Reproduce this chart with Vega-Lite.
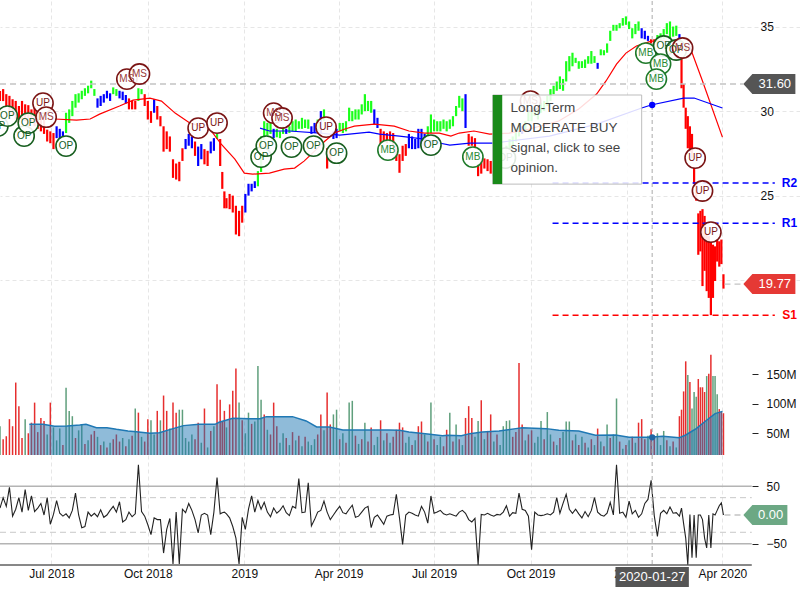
{"$schema":"https://vega.github.io/schema/vega-lite/v6.json","padding":{"left":-3,"top":0,"right":0,"bottom":0},"spacing":0,"bounds":"flush","background":"white",
"resolve":{"scale":{"color":"independent","stroke":"independent","fill":"independent"}},
"config":{"view":{"stroke":null},"font":"Liberation Sans","axis":{"labelFont":"Liberation Sans","title":null}},
"datasets":{
"bars":[
{"date":"2018-05-13","hi":31.18,"lo":30.59,"trend":"r","vol":62,"dir":"u","osc":12},
{"date":"2018-05-16","hi":31.3,"lo":30.59,"trend":"r","vol":40,"dir":"d","osc":30},
{"date":"2018-05-19","hi":31.0,"lo":30.3,"trend":"r","vol":45,"dir":"d","osc":15},
{"date":"2018-05-22","hi":30.9,"lo":29.9,"trend":"r","vol":74,"dir":"d","osc":48},
{"date":"2018-05-25","hi":30.7,"lo":29.7,"trend":"r","vol":62,"dir":"d","osc":-2},
{"date":"2018-05-28","hi":30.6,"lo":29.5,"trend":"r","vol":136,"dir":"d","osc":10},
{"date":"2018-05-31","hi":30.3,"lo":29.3,"trend":"r","vol":96,"dir":"d","osc":30},
{"date":"2018-06-03","hi":30.6,"lo":29.5,"trend":"r","vol":42,"dir":"d","osc":5},
{"date":"2018-06-06","hi":30.4,"lo":29.4,"trend":"r","vol":74,"dir":"u","osc":44},
{"date":"2018-06-09","hi":30.35,"lo":29.1,"trend":"r","vol":50,"dir":"d","osc":8},
{"date":"2018-06-12","hi":30.1,"lo":29.3,"trend":"r","vol":68,"dir":"d","osc":33},
{"date":"2018-06-15","hi":30.3,"lo":29.1,"trend":"r","vol":102,"dir":"d","osc":6},
{"date":"2018-06-18","hi":30,"lo":28.95,"trend":"r","vol":52,"dir":"d","osc":12},
{"date":"2018-06-21","hi":29.7,"lo":28.8,"trend":"r","vol":76,"dir":"d","osc":20},
{"date":"2018-06-24","hi":29.5,"lo":28.65,"trend":"r","vol":71,"dir":"d","osc":0},
{"date":"2018-06-27","hi":28.9,"lo":28.2,"trend":"r","vol":48,"dir":"u","osc":30},
{"date":"2018-06-30","hi":28.8,"lo":28.1,"trend":"r","vol":102,"dir":"d","osc":-16},
{"date":"2018-07-03","hi":28.7,"lo":27.75,"trend":"r","vol":60,"dir":"u","osc":1},
{"date":"2018-07-06","hi":29.1,"lo":28.4,"trend":"b","vol":38,"dir":"u","osc":25},
{"date":"2018-07-09","hi":28.95,"lo":28.4,"trend":"b","vol":58,"dir":"u","osc":3},
{"date":"2018-07-12","hi":28.8,"lo":28.5,"trend":"b","vol":30,"dir":"d","osc":-2},
{"date":"2018-07-15","hi":29.9,"lo":28.7,"trend":"g","vol":127,"dir":"u","osc":2},
{"date":"2018-07-18","hi":30.1,"lo":29.3,"trend":"g","vol":88,"dir":"u","osc":-5},
{"date":"2018-07-21","hi":30.6,"lo":29.7,"trend":"g","vol":79,"dir":"u","osc":8},
{"date":"2018-07-24","hi":31,"lo":30.2,"trend":"g","vol":42,"dir":"d","osc":38},
{"date":"2018-07-27","hi":31.05,"lo":30.5,"trend":"g","vol":55,"dir":"u","osc":0},
{"date":"2018-07-30","hi":31.2,"lo":30.7,"trend":"g","vol":65,"dir":"u","osc":-22},
{"date":"2018-08-02","hi":31.35,"lo":30.9,"trend":"g","vol":32,"dir":"d","osc":-20},
{"date":"2018-08-05","hi":31.5,"lo":31.05,"trend":"g","vol":38,"dir":"u","osc":5},
{"date":"2018-08-08","hi":31.8,"lo":31.35,"trend":"g","vol":48,"dir":"d","osc":-2},
{"date":"2018-08-11","hi":31.3,"lo":30.9,"trend":"g","vol":54,"dir":"d","osc":3},
{"date":"2018-08-14","hi":30.75,"lo":30.2,"trend":"b","vol":44,"dir":"u","osc":-3},
{"date":"2018-08-17","hi":30.9,"lo":30.3,"trend":"b","vol":30,"dir":"d","osc":9},
{"date":"2018-08-20","hi":31,"lo":30.5,"trend":"b","vol":36,"dir":"u","osc":-4},
{"date":"2018-08-23","hi":31.2,"lo":30.75,"trend":"b","vol":26,"dir":"d","osc":0},
{"date":"2018-08-26","hi":31.05,"lo":30.6,"trend":"b","vol":34,"dir":"u","osc":8},
{"date":"2018-08-29","hi":31.4,"lo":31,"trend":"g","vol":40,"dir":"d","osc":15},
{"date":"2018-09-01","hi":31.3,"lo":30.9,"trend":"g","vol":48,"dir":"d","osc":5},
{"date":"2018-09-04","hi":31.2,"lo":30.75,"trend":"b","vol":36,"dir":"d","osc":23},
{"date":"2018-09-07","hi":31.15,"lo":30.65,"trend":"b","vol":42,"dir":"u","osc":-12},
{"date":"2018-09-10","hi":30.95,"lo":30.45,"trend":"b","vol":28,"dir":"d","osc":-8},
{"date":"2018-09-13","hi":30.75,"lo":30.1,"trend":"r","vol":40,"dir":"u","osc":5},
{"date":"2018-09-16","hi":30.6,"lo":30.1,"trend":"r","vol":46,"dir":"d","osc":-3},
{"date":"2018-09-19","hi":30.6,"lo":30.1,"trend":"r","vol":92,"dir":"u","osc":2},
{"date":"2018-09-22","hi":31.35,"lo":30.6,"trend":"g","vol":85,"dir":"d","osc":87},
{"date":"2018-09-25","hi":31.3,"lo":31,"trend":"g","vol":44,"dir":"u","osc":6},
{"date":"2018-09-28","hi":31,"lo":30.3,"trend":"r","vol":36,"dir":"d","osc":-2},
{"date":"2018-10-01","hi":30.6,"lo":29.5,"trend":"r","vol":74,"dir":"d","osc":-17},
{"date":"2018-10-04","hi":30,"lo":29.3,"trend":"r","vol":72,"dir":"u","osc":-34},
{"date":"2018-10-07","hi":30.7,"lo":29.9,"trend":"b","vol":48,"dir":"u","osc":-5},
{"date":"2018-10-10","hi":30.3,"lo":29.5,"trend":"r","vol":88,"dir":"d","osc":-8},
{"date":"2018-10-13","hi":29.7,"lo":29.1,"trend":"r","vol":72,"dir":"u","osc":-8},
{"date":"2018-10-16","hi":29.1,"lo":27.6,"trend":"r","vol":114,"dir":"d","osc":-66},
{"date":"2018-10-19","hi":28.8,"lo":27.75,"trend":"r","vol":88,"dir":"d","osc":-25},
{"date":"2018-10-22","hi":28.5,"lo":27.6,"trend":"r","vol":58,"dir":"u","osc":-6},
{"date":"2018-10-25","hi":27.15,"lo":26.05,"trend":"r","vol":102,"dir":"d","osc":-85},
{"date":"2018-10-28","hi":26.9,"lo":25.95,"trend":"r","vol":85,"dir":"d","osc":5},
{"date":"2018-10-31","hi":27,"lo":25.85,"trend":"r","vol":90,"dir":"u","osc":-85},
{"date":"2018-11-03","hi":27.8,"lo":27.05,"trend":"r","vol":90,"dir":"u","osc":10},
{"date":"2018-11-06","hi":28.35,"lo":27.75,"trend":"b","vol":42,"dir":"u","osc":4},
{"date":"2018-11-09","hi":28.65,"lo":27.95,"trend":"b","vol":36,"dir":"u","osc":20},
{"date":"2018-11-12","hi":28.5,"lo":27.8,"trend":"b","vol":48,"dir":"u","osc":8},
{"date":"2018-11-15","hi":28.2,"lo":27.35,"trend":"r","vol":40,"dir":"d","osc":-8},
{"date":"2018-11-18","hi":27.9,"lo":26.75,"trend":"b","vol":68,"dir":"d","osc":-31},
{"date":"2018-11-21","hi":28.05,"lo":27.15,"trend":"b","vol":34,"dir":"u","osc":0},
{"date":"2018-11-24","hi":27.75,"lo":26.85,"trend":"r","vol":92,"dir":"d","osc":3},
{"date":"2018-11-27","hi":27.65,"lo":26.75,"trend":"r","vol":26,"dir":"u","osc":0},
{"date":"2018-11-30","hi":28.2,"lo":27.5,"trend":"b","vol":54,"dir":"d","osc":-34},
{"date":"2018-12-03","hi":28.4,"lo":27.65,"trend":"b","vol":62,"dir":"u","osc":5},
{"date":"2018-12-06","hi":28.65,"lo":28.35,"trend":"g","vol":133,"dir":"d","osc":65},
{"date":"2018-12-09","hi":28.35,"lo":26.75,"trend":"r","vol":107,"dir":"d","osc":2},
{"date":"2018-12-11","hi":26.4,"lo":25.4,"trend":"r","vol":70,"dir":"d","osc":4},
{"date":"2018-12-13","hi":25.25,"lo":24.25,"trend":"r","vol":88,"dir":"d","osc":5},
{"date":"2018-12-15","hi":24.85,"lo":24.25,"trend":"r","vol":60,"dir":"u","osc":2},
{"date":"2018-12-18","hi":25.1,"lo":24.2,"trend":"r","vol":99,"dir":"d","osc":-5},
{"date":"2018-12-21","hi":25,"lo":24,"trend":"r","vol":122,"dir":"d","osc":-20},
{"date":"2018-12-24","hi":24.4,"lo":22.7,"trend":"r","vol":160,"dir":"d","osc":-40},
{"date":"2018-12-27","hi":24.1,"lo":22.6,"trend":"r","vol":102,"dir":"u","osc":-85},
{"date":"2018-12-30","hi":24.4,"lo":23.4,"trend":"r","vol":72,"dir":"d","osc":-4},
{"date":"2019-01-02","hi":25.1,"lo":24,"trend":"b","vol":50,"dir":"u","osc":-25},
{"date":"2019-01-05","hi":25.7,"lo":25,"trend":"b","vol":85,"dir":"u","osc":10},
{"date":"2019-01-08","hi":25.7,"lo":25.25,"trend":"b","vol":66,"dir":"d","osc":33},
{"date":"2019-01-11","hi":25.85,"lo":25.45,"trend":"b","vol":70,"dir":"u","osc":5},
{"date":"2019-01-14","hi":26.45,"lo":25.55,"trend":"g","vol":164,"dir":"u","osc":25},
{"date":"2019-01-17","hi":28.5,"lo":26.4,"trend":"g","vol":107,"dir":"u","osc":10},
{"date":"2019-01-20","hi":29.4,"lo":28.3,"trend":"g","vol":82,"dir":"d","osc":22},
{"date":"2019-01-23","hi":29.3,"lo":28.55,"trend":"g","vol":56,"dir":"u","osc":5},
{"date":"2019-01-26","hi":29.3,"lo":28.65,"trend":"g","vol":48,"dir":"d","osc":-3},
{"date":"2019-01-29","hi":28.95,"lo":28.4,"trend":"b","vol":102,"dir":"d","osc":12},
{"date":"2019-02-01","hi":28.95,"lo":28.45,"trend":"g","vol":62,"dir":"d","osc":3},
{"date":"2019-02-04","hi":28.8,"lo":28.4,"trend":"g","vol":34,"dir":"u","osc":8},
{"date":"2019-02-07","hi":29.1,"lo":28.65,"trend":"g","vol":50,"dir":"u","osc":16},
{"date":"2019-02-10","hi":28.95,"lo":28.65,"trend":"b","vol":42,"dir":"d","osc":4},
{"date":"2019-02-13","hi":29.1,"lo":28.7,"trend":"g","vol":30,"dir":"u","osc":-1},
{"date":"2019-02-16","hi":29.4,"lo":28.8,"trend":"g","vol":52,"dir":"d","osc":15},
{"date":"2019-02-19","hi":29.5,"lo":28.8,"trend":"g","vol":38,"dir":"u","osc":12},
{"date":"2019-02-22","hi":29.4,"lo":28.95,"trend":"g","vol":46,"dir":"d","osc":63},
{"date":"2019-02-25","hi":29.6,"lo":28.95,"trend":"g","vol":28,"dir":"u","osc":4},
{"date":"2019-02-28","hi":29.5,"lo":29,"trend":"g","vol":44,"dir":"d","osc":5},
{"date":"2019-03-03","hi":29.5,"lo":28.95,"trend":"g","vol":36,"dir":"u","osc":56},
{"date":"2019-03-06","hi":29.1,"lo":28.65,"trend":"b","vol":30,"dir":"u","osc":-19},
{"date":"2019-03-09","hi":29.3,"lo":28.7,"trend":"b","vol":40,"dir":"u","osc":-8},
{"date":"2019-03-12","hi":29.5,"lo":28.8,"trend":"g","vol":48,"dir":"d","osc":5},
{"date":"2019-03-15","hi":30,"lo":28.65,"trend":"b","vol":82,"dir":"d","osc":8},
{"date":"2019-03-18","hi":30.1,"lo":29.4,"trend":"g","vol":55,"dir":"u","osc":24},
{"date":"2019-03-21","hi":27.8,"lo":26.6,"trend":"r","vol":119,"dir":"d","osc":5},
{"date":"2019-03-24","hi":27.65,"lo":27.05,"trend":"r","vol":65,"dir":"d","osc":-8},
{"date":"2019-03-27","hi":28.8,"lo":28.35,"trend":"b","vol":82,"dir":"u","osc":0},
{"date":"2019-03-30","hi":28.95,"lo":28.4,"trend":"b","vol":90,"dir":"u","osc":8},
{"date":"2019-04-02","hi":29.3,"lo":28.8,"trend":"g","vol":40,"dir":"d","osc":15},
{"date":"2019-04-05","hi":29.3,"lo":28.7,"trend":"g","vol":50,"dir":"u","osc":4},
{"date":"2019-04-08","hi":29.4,"lo":28.8,"trend":"g","vol":34,"dir":"d","osc":2},
{"date":"2019-04-11","hi":30.2,"lo":29.4,"trend":"g","vol":102,"dir":"u","osc":10},
{"date":"2019-04-14","hi":30,"lo":29.4,"trend":"g","vol":105,"dir":"u","osc":17},
{"date":"2019-04-17","hi":30.1,"lo":29.5,"trend":"g","vol":46,"dir":"d","osc":-4},
{"date":"2019-04-20","hi":30.1,"lo":29.5,"trend":"g","vol":32,"dir":"u","osc":-2},
{"date":"2019-04-23","hi":30.4,"lo":29.8,"trend":"g","vol":40,"dir":"d","osc":5},
{"date":"2019-04-26","hi":31,"lo":30,"trend":"g","vol":68,"dir":"u","osc":12},
{"date":"2019-04-29","hi":30.6,"lo":30,"trend":"g","vol":36,"dir":"d","osc":15},
{"date":"2019-05-02","hi":30.6,"lo":29.9,"trend":"g","vol":60,"dir":"d","osc":-22},
{"date":"2019-05-05","hi":30.1,"lo":29.2,"trend":"b","vol":30,"dir":"u","osc":-4},
{"date":"2019-05-08","hi":29.6,"lo":29,"trend":"b","vol":44,"dir":"u","osc":0},
{"date":"2019-05-11","hi":28.95,"lo":28.05,"trend":"r","vol":72,"dir":"d","osc":-8},
{"date":"2019-05-14","hi":28.8,"lo":28.2,"trend":"r","vol":38,"dir":"u","osc":-16},
{"date":"2019-05-17","hi":28.7,"lo":28.1,"trend":"r","vol":50,"dir":"d","osc":-2},
{"date":"2019-05-20","hi":28.8,"lo":28.2,"trend":"r","vol":34,"dir":"u","osc":0},
{"date":"2019-05-23","hi":28.7,"lo":27.8,"trend":"r","vol":44,"dir":"d","osc":1},
{"date":"2019-05-26","hi":27.95,"lo":27.05,"trend":"r","vol":56,"dir":"d","osc":36},
{"date":"2019-05-29","hi":27.45,"lo":26.35,"trend":"r","vol":68,"dir":"d","osc":-5},
{"date":"2019-06-01","hi":27.95,"lo":27.05,"trend":"r","vol":60,"dir":"d","osc":-51},
{"date":"2019-06-04","hi":28.05,"lo":27.35,"trend":"r","vol":34,"dir":"u","osc":0},
{"date":"2019-06-07","hi":28.65,"lo":27.8,"trend":"b","vol":44,"dir":"u","osc":5},
{"date":"2019-06-10","hi":28.5,"lo":27.75,"trend":"b","vol":30,"dir":"d","osc":3},
{"date":"2019-06-13","hi":28.35,"lo":27.75,"trend":"b","vol":38,"dir":"u","osc":0},
{"date":"2019-06-16","hi":28.95,"lo":27.8,"trend":"b","vol":62,"dir":"d","osc":-2},
{"date":"2019-06-19","hi":28.95,"lo":27.95,"trend":"b","vol":70,"dir":"d","osc":15},
{"date":"2019-06-22","hi":28.65,"lo":27.8,"trend":"b","vol":48,"dir":"u","osc":5},
{"date":"2019-06-25","hi":29.1,"lo":28.5,"trend":"g","vol":36,"dir":"d","osc":-14},
{"date":"2019-06-28","hi":29.8,"lo":28.7,"trend":"g","vol":102,"dir":"u","osc":33},
{"date":"2019-07-01","hi":29.5,"lo":28.8,"trend":"g","vol":40,"dir":"d","osc":3},
{"date":"2019-07-04","hi":29.4,"lo":28.8,"trend":"g","vol":30,"dir":"u","osc":5},
{"date":"2019-07-07","hi":29.4,"lo":28.8,"trend":"g","vol":44,"dir":"u","osc":8},
{"date":"2019-07-10","hi":29.5,"lo":28.95,"trend":"g","vol":28,"dir":"d","osc":2},
{"date":"2019-07-13","hi":29.4,"lo":28.8,"trend":"g","vol":56,"dir":"d","osc":0},
{"date":"2019-07-16","hi":29.5,"lo":28.95,"trend":"g","vol":85,"dir":"u","osc":2},
{"date":"2019-07-19","hi":29.7,"lo":29.1,"trend":"g","vol":36,"dir":"d","osc":0},
{"date":"2019-07-22","hi":30.3,"lo":29.7,"trend":"g","vol":65,"dir":"u","osc":-2},
{"date":"2019-07-25","hi":30.9,"lo":30.2,"trend":"g","vol":40,"dir":"d","osc":5},
{"date":"2019-07-28","hi":30.75,"lo":30,"trend":"g","vol":30,"dir":"u","osc":8},
{"date":"2019-07-31","hi":31,"lo":29,"trend":"b","vol":76,"dir":"d","osc":3},
{"date":"2019-08-03","hi":28.65,"lo":27.95,"trend":"r","vol":96,"dir":"d","osc":-8},
{"date":"2019-08-06","hi":28.5,"lo":27.95,"trend":"r","vol":76,"dir":"d","osc":-12},
{"date":"2019-08-09","hi":28.4,"lo":27.8,"trend":"r","vol":44,"dir":"u","osc":-6},
{"date":"2019-08-12","hi":26.85,"lo":26.15,"trend":"r","vol":71,"dir":"u","osc":-86},
{"date":"2019-08-15","hi":27.05,"lo":26.3,"trend":"r","vol":106,"dir":"d","osc":1},
{"date":"2019-08-18","hi":27.2,"lo":26.6,"trend":"r","vol":40,"dir":"u","osc":0},
{"date":"2019-08-21","hi":27.15,"lo":26.45,"trend":"r","vol":54,"dir":"d","osc":3},
{"date":"2019-08-24","hi":27.05,"lo":26.3,"trend":"r","vol":82,"dir":"d","osc":0},
{"date":"2019-08-27","hi":26.45,"lo":26.15,"trend":"r","vol":36,"dir":"u","osc":-2},
{"date":"2019-08-30","hi":27.05,"lo":26.45,"trend":"g","vol":48,"dir":"d","osc":1},
{"date":"2019-09-02","hi":27.35,"lo":26.75,"trend":"g","vol":30,"dir":"u","osc":0},
{"date":"2019-09-05","hi":27.6,"lo":27.05,"trend":"g","vol":62,"dir":"u","osc":5},
{"date":"2019-09-08","hi":27.95,"lo":27.35,"trend":"g","vol":71,"dir":"u","osc":16},
{"date":"2019-09-11","hi":28.35,"lo":27.6,"trend":"g","vol":72,"dir":"u","osc":-2},
{"date":"2019-09-14","hi":28.5,"lo":27.95,"trend":"g","vol":44,"dir":"d","osc":4},
{"date":"2019-09-17","hi":28.95,"lo":28.2,"trend":"g","vol":52,"dir":"d","osc":3},
{"date":"2019-09-20","hi":29.3,"lo":28.5,"trend":"g","vol":169,"dir":"d","osc":38},
{"date":"2019-09-23","hi":29.1,"lo":28.65,"trend":"b","vol":65,"dir":"d","osc":10},
{"date":"2019-09-26","hi":29.4,"lo":28.8,"trend":"g","vol":38,"dir":"u","osc":8},
{"date":"2019-09-29","hi":30,"lo":29.4,"trend":"g","vol":48,"dir":"d","osc":-2},
{"date":"2019-10-02","hi":30.1,"lo":29.4,"trend":"g","vol":55,"dir":"d","osc":-60},
{"date":"2019-10-05","hi":30.3,"lo":29.7,"trend":"g","vol":34,"dir":"u","osc":5},
{"date":"2019-10-08","hi":30.1,"lo":29.5,"trend":"g","vol":44,"dir":"u","osc":0},
{"date":"2019-10-11","hi":30.5,"lo":29.9,"trend":"g","vol":71,"dir":"u","osc":-1},
{"date":"2019-10-14","hi":30.6,"lo":30,"trend":"g","vol":40,"dir":"d","osc":0},
{"date":"2019-10-17","hi":30.9,"lo":30.3,"trend":"g","vol":86,"dir":"u","osc":2},
{"date":"2019-10-20","hi":31.3,"lo":30.6,"trend":"g","vol":48,"dir":"u","osc":0},
{"date":"2019-10-23","hi":31.5,"lo":31,"trend":"g","vol":36,"dir":"d","osc":5},
{"date":"2019-10-26","hi":31.75,"lo":31.2,"trend":"g","vol":30,"dir":"u","osc":30},
{"date":"2019-10-29","hi":32.05,"lo":31.3,"trend":"g","vol":42,"dir":"d","osc":3},
{"date":"2019-11-01","hi":31.9,"lo":31.2,"trend":"g","vol":52,"dir":"u","osc":20},
{"date":"2019-11-04","hi":32.95,"lo":31.75,"trend":"g","vol":70,"dir":"u","osc":36},
{"date":"2019-11-07","hi":33.25,"lo":32.35,"trend":"g","vol":70,"dir":"u","osc":10},
{"date":"2019-11-10","hi":33.45,"lo":32.65,"trend":"g","vol":38,"dir":"d","osc":3},
{"date":"2019-11-13","hi":33.15,"lo":32.85,"trend":"g","vol":48,"dir":"u","osc":10},
{"date":"2019-11-16","hi":32.95,"lo":32.5,"trend":"g","vol":30,"dir":"d","osc":2},
{"date":"2019-11-19","hi":32.95,"lo":32.55,"trend":"g","vol":44,"dir":"u","osc":-5},
{"date":"2019-11-22","hi":33.05,"lo":32.55,"trend":"g","vol":34,"dir":"d","osc":6},
{"date":"2019-11-25","hi":33.25,"lo":32.8,"trend":"g","vol":26,"dir":"u","osc":-3},
{"date":"2019-11-28","hi":33.55,"lo":32.8,"trend":"g","vol":40,"dir":"d","osc":8},
{"date":"2019-12-01","hi":33.25,"lo":32.85,"trend":"g","vol":30,"dir":"u","osc":30},
{"date":"2019-12-04","hi":32.85,"lo":32.5,"trend":"b","vol":58,"dir":"d","osc":5},
{"date":"2019-12-07","hi":33.65,"lo":33.3,"trend":"g","vol":36,"dir":"u","osc":0},
{"date":"2019-12-10","hi":33.6,"lo":33.3,"trend":"g","vol":28,"dir":"d","osc":-2},
{"date":"2019-12-13","hi":34,"lo":33.45,"trend":"g","vol":65,"dir":"u","osc":3},
{"date":"2019-12-16","hi":34.75,"lo":34.15,"trend":"g","vol":42,"dir":"d","osc":22},
{"date":"2019-12-19","hi":35.1,"lo":34.75,"trend":"g","vol":48,"dir":"u","osc":0},
{"date":"2019-12-22","hi":35.1,"lo":34.75,"trend":"g","vol":109,"dir":"u","osc":87},
{"date":"2019-12-25","hi":35.2,"lo":34.9,"trend":"g","vol":36,"dir":"d","osc":3},
{"date":"2019-12-28","hi":35.5,"lo":35.05,"trend":"g","vol":24,"dir":"u","osc":5},
{"date":"2019-12-31","hi":35.6,"lo":35.1,"trend":"g","vol":30,"dir":"d","osc":-4},
{"date":"2020-01-03","hi":35.3,"lo":34.85,"trend":"g","vol":38,"dir":"u","osc":24},
{"date":"2020-01-06","hi":34.9,"lo":34.3,"trend":"g","vol":44,"dir":"d","osc":2},
{"date":"2020-01-09","hi":35.15,"lo":34.55,"trend":"g","vol":34,"dir":"u","osc":8},
{"date":"2020-01-12","hi":35.3,"lo":34.75,"trend":"g","vol":68,"dir":"d","osc":-4},
{"date":"2020-01-15","hi":34.9,"lo":34.3,"trend":"b","vol":74,"dir":"d","osc":2},
{"date":"2020-01-18","hi":34.75,"lo":34.25,"trend":"b","vol":40,"dir":"d","osc":20},
{"date":"2020-01-21","hi":34.45,"lo":34.15,"trend":"b","vol":46,"dir":"u","osc":27},
{"date":"2020-01-24","hi":34.25,"lo":34,"trend":"r","vol":57,"dir":"d","osc":60},
{"date":"2020-01-27","hi":34.25,"lo":33.95,"trend":"r","vol":40,"dir":"d","osc":-1},
{"date":"2020-01-30","hi":34.5,"lo":34,"trend":"g","vol":50,"dir":"u","osc":-37},
{"date":"2020-02-02","hi":34.6,"lo":34.15,"trend":"g","vol":30,"dir":"u","osc":3},
{"date":"2020-02-05","hi":34.85,"lo":34.25,"trend":"g","vol":54,"dir":"u","osc":8},
{"date":"2020-02-08","hi":35.2,"lo":34.55,"trend":"g","vol":38,"dir":"d","osc":2},
{"date":"2020-02-11","hi":35.3,"lo":34.3,"trend":"g","vol":28,"dir":"u","osc":14},
{"date":"2020-02-14","hi":35,"lo":34.4,"trend":"g","vol":36,"dir":"d","osc":3},
{"date":"2020-02-17","hi":35.05,"lo":34.45,"trend":"g","vol":26,"dir":"u","osc":4},
{"date":"2020-02-20","hi":34.55,"lo":34.3,"trend":"b","vol":79,"dir":"d","osc":-2},
{"date":"2020-02-22","hi":33.85,"lo":31.35,"trend":"r","vol":90,"dir":"d","osc":12},
{"date":"2020-02-24","hi":31.6,"lo":30.2,"trend":"r","vol":121,"dir":"d","osc":-15},
{"date":"2020-02-26","hi":30.2,"lo":28.95,"trend":"r","vol":172,"dir":"d","osc":-40},
{"date":"2020-02-28","hi":29.7,"lo":27.8,"trend":"r","vol":149,"dir":"u","osc":-86},
{"date":"2020-03-01","hi":29.1,"lo":27.6,"trend":"r","vol":137,"dir":"d","osc":1},
{"date":"2020-03-03","hi":28.65,"lo":27.2,"trend":"r","vol":92,"dir":"u","osc":-74},
{"date":"2020-03-05","hi":26.65,"lo":25.7,"trend":"r","vol":120,"dir":"u","osc":0},
{"date":"2020-03-07","hi":25.7,"lo":24.7,"trend":"r","vol":112,"dir":"u","osc":-74},
{"date":"2020-03-09","hi":23.95,"lo":21.5,"trend":"r","vol":142,"dir":"d","osc":0},
{"date":"2020-03-11","hi":24.1,"lo":21.7,"trend":"r","vol":128,"dir":"d","osc":0},
{"date":"2020-03-13","hi":24.2,"lo":19.65,"trend":"r","vol":128,"dir":"d","osc":-8},
{"date":"2020-03-15","hi":23.8,"lo":20.55,"trend":"r","vol":120,"dir":"d","osc":-40},
{"date":"2020-03-17","hi":22.7,"lo":19.35,"trend":"r","vol":147,"dir":"u","osc":-57},
{"date":"2020-03-19","hi":22.6,"lo":18.95,"trend":"r","vol":151,"dir":"d","osc":0},
{"date":"2020-03-21","hi":22.3,"lo":17.93,"trend":"r","vol":183,"dir":"d","osc":-57},
{"date":"2020-03-23","hi":22.1,"lo":18.95,"trend":"r","vol":147,"dir":"u","osc":2},
{"date":"2020-03-25","hi":22,"lo":19.95,"trend":"r","vol":147,"dir":"u","osc":0},
{"date":"2020-03-27","hi":22.4,"lo":21.1,"trend":"r","vol":116,"dir":"u","osc":8},
{"date":"2020-03-29","hi":22.3,"lo":20.8,"trend":"r","vol":91,"dir":"d","osc":16},
{"date":"2020-03-31","hi":22.4,"lo":20.95,"trend":"r","vol":86,"dir":"d","osc":21},
{"date":"2020-04-02","hi":20.35,"lo":19.5,"trend":"r","vol":84,"dir":"d","osc":0}
],
"redma":[{"date":"2018-07-04","ma":29.53},{"date":"2018-07-25","ma":29.47},{"date":"2018-08-07","ma":29.53},{"date":"2018-08-16","ma":29.82},{"date":"2018-09-04","ma":30.3},{"date":"2018-09-17","ma":30.65},{"date":"2018-10-03","ma":30.77},{"date":"2018-10-14","ma":30.59},{"date":"2018-10-27","ma":29.88},{"date":"2018-11-10","ma":29.3},{"date":"2018-11-29","ma":28.94},{"date":"2018-12-10","ma":28.05},{"date":"2018-12-23","ma":27.16},{"date":"2019-01-01","ma":26.33},{"date":"2019-01-09","ma":26.27},{"date":"2019-01-25","ma":26.33},{"date":"2019-02-08","ma":26.57},{"date":"2019-02-18","ma":26.63},{"date":"2019-02-27","ma":27.04},{"date":"2019-03-09","ma":27.63},{"date":"2019-03-19","ma":28.23},{"date":"2019-03-28","ma":28.7},{"date":"2019-04-07","ma":28.94},{"date":"2019-04-16","ma":29.11},{"date":"2019-05-05","ma":29.23},{"date":"2019-05-24","ma":29.11},{"date":"2019-06-07","ma":28.82},{"date":"2019-06-22","ma":28.7},{"date":"2019-07-06","ma":28.7},{"date":"2019-07-17","ma":28.52},{"date":"2019-07-25","ma":28.7},{"date":"2019-08-08","ma":28.82},{"date":"2019-08-23","ma":28.64},{"date":"2019-09-11","ma":28.7},{"date":"2019-09-30","ma":28.94},{"date":"2019-10-28","ma":29.41},{"date":"2019-11-16","ma":30.12},{"date":"2019-12-03","ma":31.01},{"date":"2019-12-12","ma":31.78},{"date":"2019-12-22","ma":32.78},{"date":"2019-12-31","ma":33.43},{"date":"2020-01-10","ma":33.85},{"date":"2020-01-24","ma":34.14},{"date":"2020-02-05","ma":34.14},{"date":"2020-02-29","ma":33.97},{"date":"2020-03-13","ma":31.78},{"date":"2020-04-01","ma":28.46}],
"bluema":[{"date":"2019-01-16","ma":28.99},{"date":"2019-01-25","ma":28.82},{"date":"2019-02-13","ma":28.82},{"date":"2019-03-14","ma":28.7},{"date":"2019-04-02","ma":28.58},{"date":"2019-04-30","ma":28.76},{"date":"2019-05-10","ma":28.64},{"date":"2019-05-29","ma":28.52},{"date":"2019-06-22","ma":28.34},{"date":"2019-07-06","ma":28.11},{"date":"2019-07-16","ma":27.99},{"date":"2019-08-04","ma":28.11},{"date":"2019-08-27","ma":28.11},{"date":"2019-10-19","ma":28.52},{"date":"2019-12-03","ma":29.23},{"date":"2020-01-15","ma":30.18},{"date":"2020-01-24","ma":30.36},{"date":"2020-02-24","ma":30.77},{"date":"2020-03-05","ma":30.77},{"date":"2020-04-01","ma":30.18}],
"volma":[{"date":"2018-06-10","vol":65.2},{"date":"2018-06-23","vol":65.2},{"date":"2018-07-04","vol":61.8},{"date":"2018-07-16","vol":62.4},{"date":"2018-07-28","vol":64.1},{"date":"2018-08-03","vol":65.2},{"date":"2018-08-13","vol":59.5},{"date":"2018-08-23","vol":59.5},{"date":"2018-09-01","vol":56.7},{"date":"2018-09-12","vol":53.9},{"date":"2018-09-20","vol":52.8},{"date":"2018-10-03","vol":50},{"date":"2018-10-12","vol":51.1},{"date":"2018-10-25","vol":57.9},{"date":"2018-11-04","vol":63},{"date":"2018-11-19","vol":65.2},{"date":"2018-12-04","vol":65.2},{"date":"2018-12-08","vol":68.6},{"date":"2018-12-21","vol":75.4},{"date":"2019-01-06","vol":74.8},{"date":"2019-01-16","vol":74.8},{"date":"2019-01-22","vol":78.2},{"date":"2019-01-31","vol":78.2},{"date":"2019-02-16","vol":78.2},{"date":"2019-03-01","vol":70.9},{"date":"2019-03-11","vol":60.7},{"date":"2019-03-23","vol":60.7},{"date":"2019-04-05","vol":55.6},{"date":"2019-04-24","vol":55.6},{"date":"2019-05-19","vol":55.6},{"date":"2019-05-29","vol":55},{"date":"2019-06-07","vol":52.2},{"date":"2019-06-27","vol":48.3},{"date":"2019-07-09","vol":46},{"date":"2019-07-14","vol":46.6},{"date":"2019-07-27","vol":46},{"date":"2019-08-04","vol":49.4},{"date":"2019-08-16","vol":52.2},{"date":"2019-09-01","vol":54},{"date":"2019-09-17","vol":57.9},{"date":"2019-09-23","vol":59.5},{"date":"2019-10-16","vol":57.9},{"date":"2019-10-28","vol":55},{"date":"2019-11-16","vol":54},{"date":"2019-12-02","vol":46.6},{"date":"2019-12-21","vol":47.1},{"date":"2020-01-03","vol":43.2},{"date":"2020-01-22","vol":43.2},{"date":"2020-02-04","vol":44.9},{"date":"2020-02-20","vol":42.6},{"date":"2020-02-26","vol":47.1},{"date":"2020-03-07","vol":57.9},{"date":"2020-03-16","vol":70.9},{"date":"2020-03-25","vol":83.3},{"date":"2020-04-01","vol":87.2}],
"signals":[{"date":"2018-05-11","price":29.11,"signal":"OP"},{"date":"2018-05-20","price":29.7,"signal":"OP"},{"date":"2018-06-05","price":28.52,"signal":"OP"},{"date":"2018-06-09","price":29.29,"signal":"OP"},{"date":"2018-06-23","price":30.47,"signal":"UP"},{"date":"2018-06-26","price":29.64,"signal":"MS"},{"date":"2018-07-15","price":27.93,"signal":"OP"},{"date":"2018-09-11","price":31.89,"signal":"MS"},{"date":"2018-09-23","price":32.19,"signal":"MS"},{"date":"2018-11-18","price":28.99,"signal":"UP"},{"date":"2018-12-06","price":29.29,"signal":"UP"},{"date":"2019-01-17","price":27.28,"signal":"OP"},{"date":"2019-01-22","price":27.93,"signal":"OP"},{"date":"2019-01-29","price":29.88,"signal":"MS"},{"date":"2019-02-06","price":29.59,"signal":"MS"},{"date":"2019-02-15","price":27.87,"signal":"OP"},{"date":"2019-03-08","price":27.93,"signal":"OP"},{"date":"2019-03-20","price":29.05,"signal":"UP"},{"date":"2019-03-30","price":27.51,"signal":"OP"},{"date":"2019-05-18","price":27.69,"signal":"MB"},{"date":"2019-06-28","price":27.99,"signal":"OP"},{"date":"2019-08-07","price":27.28,"signal":"MB"},{"date":"2019-09-07","price":27.22,"signal":"OP"},{"date":"2019-10-01","price":30.59,"signal":"MS"},{"date":"2020-01-19","price":33.43,"signal":"MB"},{"date":"2020-02-05","price":33.85,"signal":"OP"},{"date":"2020-02-02","price":32.78,"signal":"MB"},{"date":"2020-01-29","price":31.89,"signal":"MB"},{"date":"2020-02-17","price":33.61,"signal":"OP"},{"date":"2020-02-23","price":33.73,"signal":"MS"},{"date":"2020-03-06","price":27.22,"signal":"UP"},{"date":"2020-03-13","price":25.27,"signal":"UP"},{"date":"2020-03-21","price":22.84,"signal":"UP"}]
},
"vconcat":[
{"width":800,"height":350,
"encoding":{"x":{"field":"date","type":"temporal","scale":{"type":"utc","domain":["2018-05-13","2020-06-14"]},"axis":{"values":[{"utc":true,"year":2018,"month":7,"date":1},{"utc":true,"year":2018,"month":10,"date":1},{"utc":true,"year":2019,"month":1,"date":1},{"utc":true,"year":2019,"month":4,"date":1},{"utc":true,"year":2019,"month":7,"date":1},{"utc":true,"year":2019,"month":10,"date":1},{"utc":true,"year":2020,"month":1,"date":1},{"utc":true,"year":2020,"month":4,"date":1}],"labels":false,"ticks":false,"domain":false,"grid":true,"gridColor":"#e6e6e6","gridDash":[4,3],"title":null}}},
"layer":[
{"data":{"name":"bars"},"mark":{"type":"rule","strokeWidth":2.2,"clip":true},"encoding":{"y":{"field":"hi","type":"quantitative","scale":{"domain":[15.81,36.51],"nice":false},"axis":{"values":[20,25,30,35],"labelExpr":"datum.value==20?'':datum.label","orient":"right","offset":-40,"ticks":false,"domain":false,"grid":true,"gridColor":"#e6e6e6","gridDash":[4,3],"labelPadding":0,"labelFontSize":12,"labelColor":"#111","title":null}},"y2":{"field":"lo"},"color":{"field":"trend","type":"nominal","legend":null,"scale":{"domain":["r","b","g"],"range":["#ff0000","#0000ff","#1aff1a"]}}}},
{"data":{"name":"redma"},"mark":{"type":"line","color":"#ff0000","strokeWidth":1.2},"encoding":{"y":{"field":"ma","type":"quantitative"}}},
{"data":{"name":"bluema"},"mark":{"type":"line","color":"#0000ff","strokeWidth":1.2},"encoding":{"y":{"field":"ma","type":"quantitative"}}},
{"data":{"values":[{"date":"2020-01-25"}]},"mark":{"type":"rule","color":"#aaaaaa","strokeDash":[4,3],"strokeWidth":1},"encoding":{}},
{"data":{"values":[{"date":"2019-10-22","date2":"2020-05-21","price":25.74},{"date":"2019-10-22","date2":"2020-05-21","price":23.37}]},"mark":{"type":"rule","color":"#0000ff","strokeDash":[6,4],"strokeWidth":1.5},"encoding":{"x2":{"field":"date2"},"y":{"field":"price","type":"quantitative"}}},
{"data":{"values":[{"date":"2019-10-22","date2":"2020-05-21","price":17.93}]},"mark":{"type":"rule","color":"#ff0000","strokeDash":[6,4],"strokeWidth":1.5},"encoding":{"x2":{"field":"date2"},"y":{"field":"price","type":"quantitative"}}},
{"data":{"values":[{"date":"2018-05-13","date2":"2020-04-21","price":31.6},{"date":"2020-04-03","date2":"2020-04-21","price":19.77}]},"mark":{"type":"rule","color":"#c4c4c4","strokeDash":[6,4],"strokeWidth":1.3},"encoding":{"x2":{"field":"date2"},"y":{"field":"price","type":"quantitative"}}},
{"data":{"name":"signals"},"mark":{"type":"point","shape":"circle","filled":false,"fill":"white","fillOpacity":0.9,"size":410,"strokeWidth":1.6,"opacity":1,"clip":true},"encoding":{"y":{"field":"price","type":"quantitative"},"stroke":{"field":"signal","type":"nominal","legend":null,"scale":{"domain":["OP","MB","UP","MS"],"range":["#175e1f","#1f7a2a","#7a1414","#7a1414"]}}}},
{"data":{"name":"signals"},"mark":{"type":"text","fontSize":10,"font":"Liberation Sans","clip":true},"encoding":{"y":{"field":"price","type":"quantitative"},"text":{"field":"signal"},"fill":{"field":"signal","type":"nominal","legend":null,"scale":{"domain":["OP","MB","UP","MS"],"range":["#175e1f","#2a8a35","#7a1414","#9a3a3a"]}}}},
{"data":{"values":[{"date":"2020-01-25","price":30.36}]},"mark":{"type":"point","shape":"circle","filled":true,"color":"#0000ff","size":40,"opacity":1},"encoding":{"y":{"field":"price","type":"quantitative"}}},
{"data":{"values":[{"date":"2019-08-26","date2":"2020-01-15","top":30.95,"bottom":25.68}]},"mark":{"type":"rect","fill":"white","fillOpacity":0.86,"stroke":"#bdbdbd","strokeWidth":1},"encoding":{"x2":{"field":"date2"},"y":{"field":"top","type":"quantitative"},"y2":{"field":"bottom"}}},
{"data":{"values":[{"date":"2019-08-26","date2":"2019-09-04","top":30.95,"bottom":25.68}]},"mark":{"type":"rect","fill":"#1a8a1a"},"encoding":{"x2":{"field":"date2"},"y":{"field":"top","type":"quantitative"},"y2":{"field":"bottom"}}},
{"data":{"values":[{"date":"2019-09-12","price":30.2,"line":"Long-Term"},{"date":"2019-09-12","price":29,"line":"MODERATE BUY"},{"date":"2019-09-12","price":27.8,"line":"signal, click to see"},{"date":"2019-09-12","price":26.63,"line":"opinion."}]},"mark":{"type":"text","align":"left","baseline":"middle","fontSize":13.5,"color":"#444444","font":"Liberation Sans"},"encoding":{"y":{"field":"price","type":"quantitative"},"text":{"field":"line"}}},
{"data":{"values":[{"date":"2020-06-04","price":25.74,"line":"R2"},{"date":"2020-06-04","price":23.37,"line":"R1"}]},"mark":{"type":"text","fontSize":12,"fontWeight":"bold","color":"#0000ff","font":"Liberation Sans"},"encoding":{"y":{"field":"price","type":"quantitative"},"text":{"field":"line"}}},
{"data":{"values":[{"date":"2020-06-04","price":17.93,"line":"S1"}]},"mark":{"type":"text","fontSize":12,"fontWeight":"bold","color":"#ff0000","font":"Liberation Sans"},"encoding":{"y":{"field":"price","type":"quantitative"},"text":{"field":"line"}}},
{"data":{"values":[{"date":"2020-04-21","price":31.6}]},"mark":{"type":"point","filled":true,"shape":"M0,0L9,-10L52,-10L52,10L9,10Z","size":4,"color":"#555555","opacity":1},"encoding":{"y":{"field":"price","type":"quantitative"}}},
{"data":{"values":[{"date":"2020-04-21","price":19.77}]},"mark":{"type":"point","filled":true,"shape":"M0,0L9,-10L52,-10L52,10L9,10Z","size":4,"color":"#e53935","opacity":1},"encoding":{"y":{"field":"price","type":"quantitative"}}},
{"data":{"values":[{"date":"2020-05-21","price":31.6,"line":"31.60"},{"date":"2020-05-21","price":19.77,"line":"19.77"}]},"mark":{"type":"text","fontSize":13,"color":"white","font":"Liberation Sans"},"encoding":{"y":{"field":"price","type":"quantitative"},"text":{"field":"line"}}}
]},
{"width":800,"height":104,
"encoding":{"x":{"field":"date","type":"temporal","scale":{"type":"utc","domain":["2018-05-13","2020-06-14"]},"axis":{"values":[{"utc":true,"year":2018,"month":7,"date":1},{"utc":true,"year":2018,"month":10,"date":1},{"utc":true,"year":2019,"month":1,"date":1},{"utc":true,"year":2019,"month":4,"date":1},{"utc":true,"year":2019,"month":7,"date":1},{"utc":true,"year":2019,"month":10,"date":1},{"utc":true,"year":2020,"month":1,"date":1},{"utc":true,"year":2020,"month":4,"date":1}],"labels":false,"ticks":false,"domain":false,"grid":true,"gridColor":"#e6e6e6","gridDash":[4,3],"title":null}}},
"layer":[
{"data":{"name":"bars"},"mark":{"type":"rule","strokeWidth":1.5,"clip":true},"encoding":{"y":{"field":"vol","type":"quantitative","scale":{"domain":[13.2,189.5],"nice":false},"axis":{"values":[50,100,150],"labelExpr":"datum.label+'M'","orient":"right","offset":-48,"tickSize":6,"tickColor":"#222","domain":false,"grid":false,"labelPadding":8,"labelFontSize":12,"labelColor":"#111","title":null}},"y2":{"datum":13.2},"color":{"field":"dir","type":"nominal","legend":null,"scale":{"domain":["d","u"],"range":["#e62e2e","#5f9f7c"]}}}},
{"data":{"name":"volma"},"mark":{"type":"area","color":"#1f78b4","opacity":0.5,"clip":true},"encoding":{"y":{"field":"vol","type":"quantitative"},"y2":{"datum":13.2}}},
{"data":{"name":"volma"},"mark":{"type":"line","color":"#1f78b4","strokeWidth":1.5},"encoding":{"y":{"field":"vol","type":"quantitative"}}},
{"data":{"values":[{"date":"2020-01-25"}]},"mark":{"type":"rule","color":"#aaaaaa","strokeDash":[4,3],"strokeWidth":1},"encoding":{}},
{"data":{"values":[{"date":"2020-01-25","vol":43.2}]},"mark":{"type":"point","shape":"circle","filled":true,"color":"#1f68a4","size":40,"opacity":1},"encoding":{"y":{"field":"vol","type":"quantitative"}}}
]},
{"width":800,"height":110,
"encoding":{"x":{"field":"date","type":"temporal","scale":{"type":"utc","domain":["2018-05-13","2020-06-14"]},"axis":{"values":[{"utc":true,"year":2018,"month":7,"date":1},{"utc":true,"year":2018,"month":10,"date":1},{"utc":true,"year":2019,"month":1,"date":1},{"utc":true,"year":2019,"month":4,"date":1},{"utc":true,"year":2019,"month":7,"date":1},{"utc":true,"year":2019,"month":10,"date":1},{"utc":true,"year":2020,"month":1,"date":1},{"utc":true,"year":2020,"month":4,"date":1}],"labelExpr":"utcFormat(datum.value, utcmonth(datum.value)==0?'%Y':'%b %Y')","labelFontSize":12,"labelColor":"#111","labelPadding":3,"labelOverlap":false,"ticks":false,"domain":false,"grid":true,"gridColor":"#e6e6e6","gridDash":[4,3],"title":null}}},
"layer":[
{"data":{"values":[{"date":"2018-05-13","date2":"2020-04-29","level":50},{"date":"2018-05-13","date2":"2020-04-29","level":-50}]},"mark":{"type":"rule","color":"#b4b4b4","strokeWidth":1.5},"encoding":{"x2":{"field":"date2"},"y":{"field":"level","type":"quantitative","scale":{"domain":[-86.7,104],"nice":false},"axis":{"values":[50,-50],"orient":"right","offset":-48,"tickSize":6,"tickColor":"#222","domain":false,"grid":false,"labelPadding":8,"labelFontSize":12,"labelColor":"#111","title":null}}}},
{"data":{"values":[{"date":"2018-05-13","date2":"2020-04-29","level":30},{"date":"2018-05-13","date2":"2020-04-29","level":-30}]},"mark":{"type":"rule","color":"#c8c8c8","strokeWidth":1,"strokeDash":[6,4]},"encoding":{"x2":{"field":"date2"},"y":{"field":"level","type":"quantitative"}}},
{"data":{"name":"bars"},"mark":{"type":"line","color":"#222222","strokeWidth":1.1},"encoding":{"y":{"field":"osc","type":"quantitative"}}},
{"data":{"values":[{"date":"2020-01-25"}]},"mark":{"type":"rule","color":"#aaaaaa","strokeDash":[4,3],"strokeWidth":1},"encoding":{}},
{"data":{"values":[{"date":"2020-04-03","date2":"2020-04-21","level":0}]},"mark":{"type":"rule","color":"#c4c4c4","strokeDash":[6,4],"strokeWidth":1.3},"encoding":{"x2":{"field":"date2"},"y":{"field":"level","type":"quantitative"}}},
{"data":{"values":[{"date":"2018-05-13","date2":"2020-04-29","level":-86.7}]},"mark":{"type":"rule","color":"#111111","strokeWidth":1},"encoding":{"x2":{"field":"date2"},"y":{"field":"level","type":"quantitative"}}},
{"data":{"values":[{"date":"2020-04-21","level":0}]},"mark":{"type":"point","filled":true,"shape":"M0,0L9,-10L44,-10L44,10L9,10Z","size":4,"color":"#6ca884","opacity":1},"encoding":{"y":{"field":"level","type":"quantitative"}}},
{"data":{"values":[{"date":"2020-05-17","level":0,"line":"0.00"}]},"mark":{"type":"text","fontSize":13,"color":"white","font":"Liberation Sans"},"encoding":{"y":{"field":"level","type":"quantitative"},"text":{"field":"line"}}},
{"data":{"values":[{"date":"2019-12-21","date2":"2020-02-29","top":-90,"bottom":-125}]},"mark":{"type":"rect","fill":"#555555"},"encoding":{"x2":{"field":"date2"},"y":{"field":"top","type":"quantitative"},"y2":{"field":"bottom"}}},
{"data":{"values":[{"date":"2020-01-25","level":-107,"line":"2020-01-27"}]},"mark":{"type":"text","fontSize":13,"color":"white","font":"Liberation Sans"},"encoding":{"y":{"field":"level","type":"quantitative"},"text":{"field":"line"}}}
]}
]}
